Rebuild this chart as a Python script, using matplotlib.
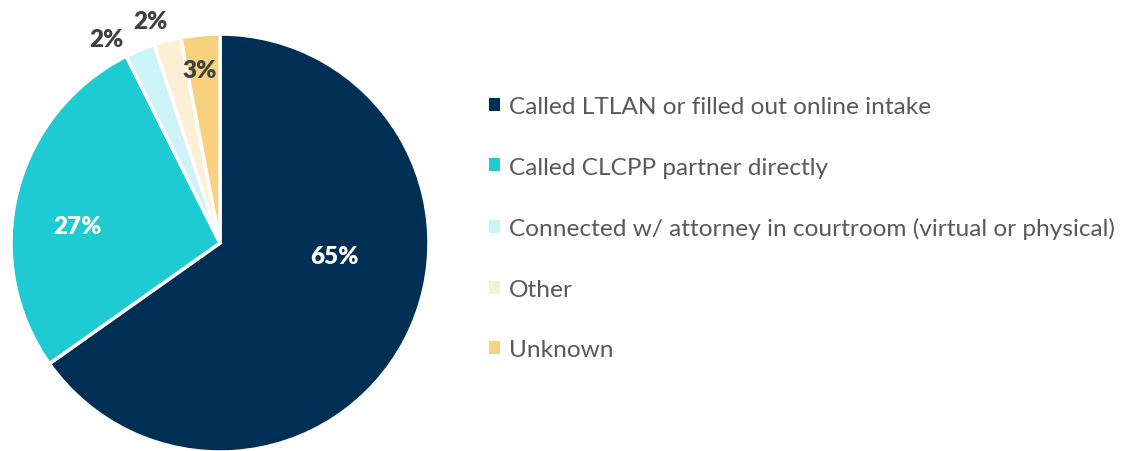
import matplotlib.pyplot as plt

labels = ["Called LTLAN or filled out online intake",
          "Called CLCPP partner directly",
          "Connected w/ attorney in courtroom (virtual or physical)",
          "Other",
          "Unknown"]
values = [65.2, 27.4, 2.3, 2.1, 3.0]
colors = ["#002f56", "#1ecbd3", "#ccf3f6", "#fdefd4", "#f8d17e"]
pct_colors = ["white", "white", "#404040", "#404040", "#404040"]
# where each percent label sits (pie units, center at 0,0)
pct_pos = [(0.55, -0.06), (-0.68, 0.08), (-0.545, 0.975), (-0.335, 1.06), (-0.095, 0.83)]

plt.rcParams['font.family'] = ['Lato', 'DejaVu Sans']

fig = plt.figure(figsize=(11.25, 4.52), dpi=100)
W, H = 1125, 452
cx, cy, r = 220, 452 - 244, 209
ax = fig.add_axes([(cx - r) / W, (cy - r) / H, 2 * r / W, 2 * r / H])

wedges, texts, autotexts = ax.pie(values, colors=colors, startangle=90, counterclock=False,
                                  autopct='%.0f%%', radius=1,
                                  wedgeprops=dict(edgecolor='white', linewidth=2.5))
for t, c, p in zip(autotexts, pct_colors, pct_pos):
    t.set_color(c)
    t.set_position(p)
    t.set_fontsize(17.5)
    t.set_fontweight('heavy')
ax.set_xlim(-1, 1)
ax.set_ylim(-1, 1)
ax.set_aspect('equal')

leg = fig.legend(wedges, labels, loc='upper left', bbox_to_anchor=(467 / W, 1 - 75 / H),
                 frameon=False, fontsize=17.6, labelcolor='#595959',
                 handlelength=0.45, handleheight=0.45, handletextpad=0.35, labelspacing=1.62)
for h in leg.legend_handles:
    h.set_linewidth(0)

fig.savefig("out.png", dpi=100)
